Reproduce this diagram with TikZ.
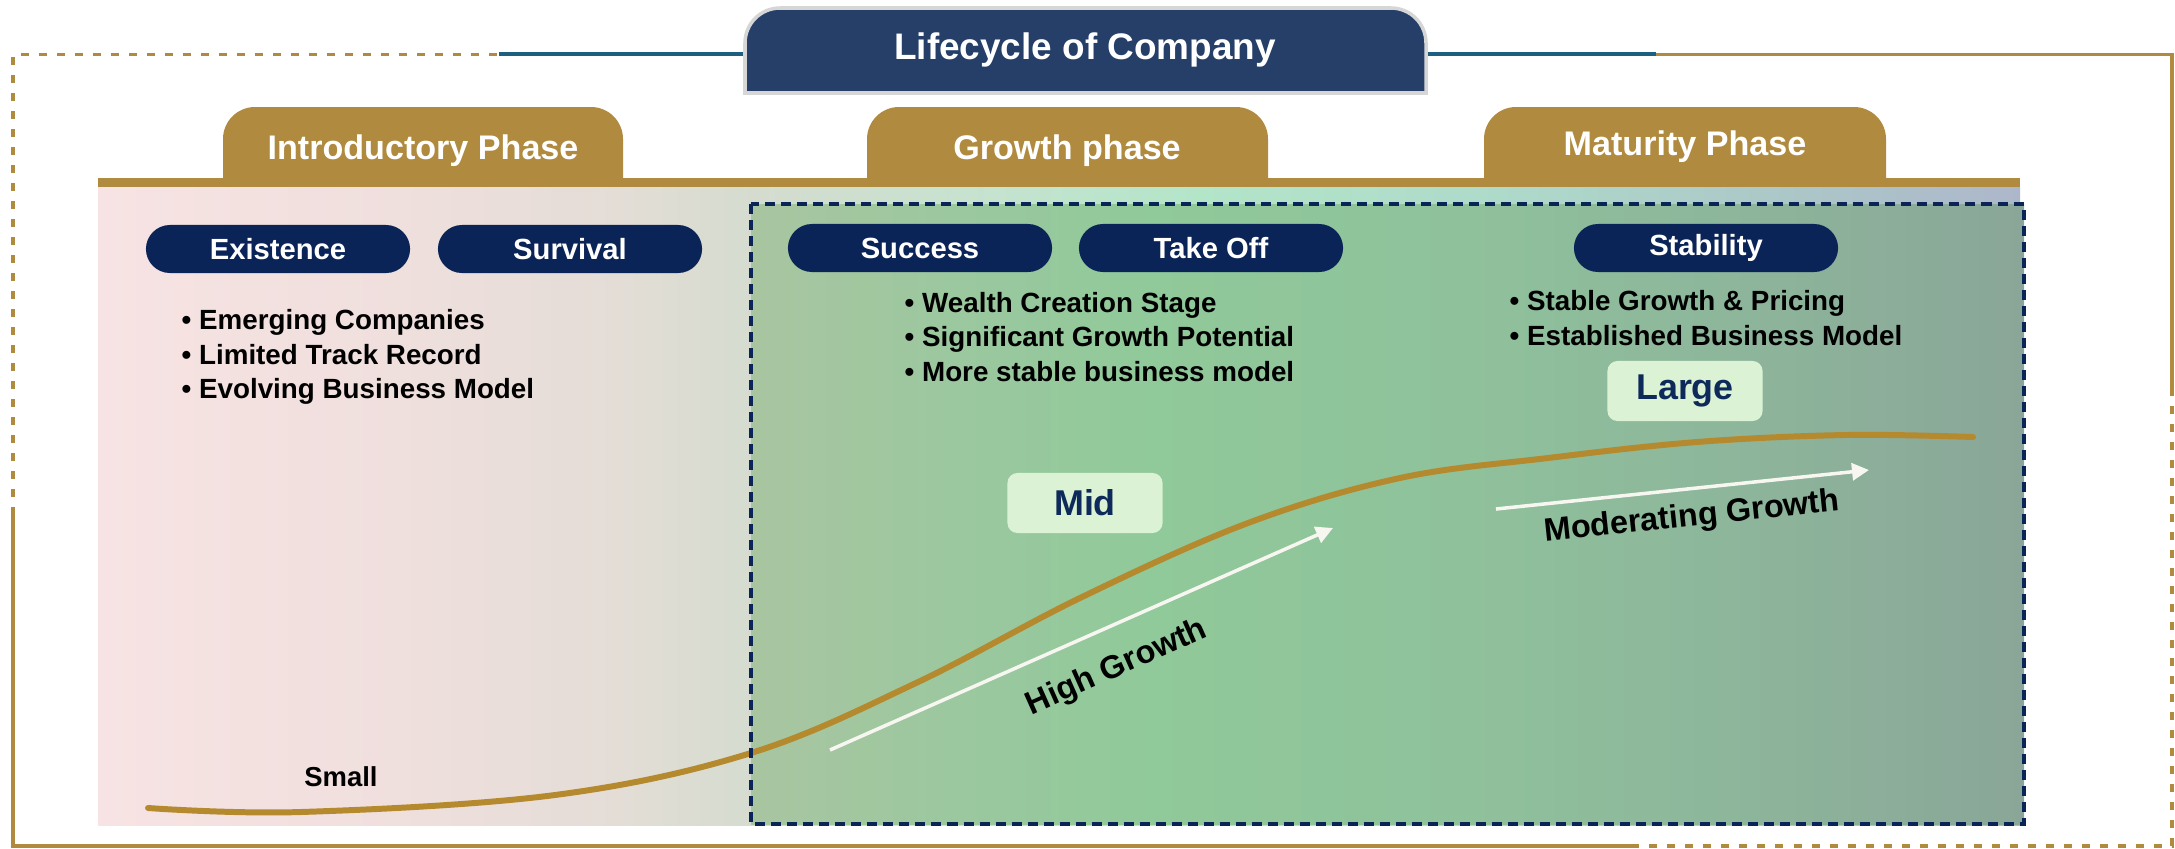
\documentclass[tikz,border=0pt]{standalone}
\usepackage{fontspec}
\setmainfont{Liberation Sans}
\usetikzlibrary{arrows.meta}
\definecolor{gold}{HTML}{B08A3E}
\definecolor{curvegold}{HTML}{B5892E}
\definecolor{navy}{HTML}{0B2457}
\definecolor{titlenavy}{HTML}{253F68}
\definecolor{tealline}{HTML}{1D5F7F}
\definecolor{boxgray}{HTML}{D6D6D6}
\definecolor{mintbox}{HTML}{DBF2D4}
\definecolor{sizenavy}{HTML}{0E2A5A}
\definecolor{arrowwhite}{HTML}{F8F6F0}
\tikzset{
  frameline/.style={draw=gold, line width=0.9pt},
  framedash/.style={draw=gold, line width=0.9pt, dash pattern=on 0.08cm off 0.1cm},
  tabshape/.style={fill=gold, rounded corners=0.32cm},
  tabtxt/.style={font=\fontsize{9.7}{11}\selectfont\bfseries, text=white, inner sep=0},
  pill/.style={rectangle, rounded corners=0.24cm, fill=navy, text=white,
    font=\fontsize{8.3}{10}\selectfont\bfseries, minimum width=2.64cm, minimum height=0.48cm, inner sep=0},
  bullets/.style={font=\fontsize{7.9}{9.8}\selectfont\bfseries, align=left, anchor=west, inner sep=0, text=black},
  sizebox/.style={rectangle, rounded corners=0.1cm, fill=mintbox, text=sizenavy,
    font=\fontsize{10.2}{12}\selectfont\bfseries, minimum width=1.55cm, minimum height=0.6cm, inner sep=0},
  growtharrow/.style={draw=arrowwhite, line width=1pt, -{Triangle[length=0.17cm, width=0.17cm]}},
  arrowlabel/.style={font=\fontsize{9.2}{11}\selectfont\bfseries, text=black, inner sep=0},
}
\begin{document}
\begin{tikzpicture}[x=0.01cm, y=-0.01cm]
\useasboundingbox (0,0) rectangle (2175,848);
% tabs
\fill[tabshape] (223,107) rectangle (623,240);
\fill[tabshape] (867,107) rectangle (1268,240);
\fill[tabshape] (1484,107) rectangle (1886,240);
% panel background
\shade[left color={rgb,255:red,247;green,227;blue,227}, right color={rgb,255:red,239;green,223;blue,221}] (98,187) rectangle (401,825);
\shade[left color={rgb,255:red,239;green,223;blue,221}, right color={rgb,255:red,229;green,221;blue,215}] (400,187) rectangle (601,825);
\shade[left color={rgb,255:red,229;green,221;blue,215}, right color={rgb,255:red,213;green,220;blue,207}] (600,187) rectangle (752,825);
\shade[left color={rgb,255:red,213;green,220;blue,207}, right color={rgb,255:red,197;green,227;blue,207}] (751,187) rectangle (1001,825);
\shade[left color={rgb,255:red,197;green,227;blue,207}, right color={rgb,255:red,179;green,229;blue,201}] (1000,187) rectangle (1201,825);
\shade[left color={rgb,255:red,179;green,229;blue,201}, right color={rgb,255:red,174;green,218;blue,202}] (1200,187) rectangle (1501,825);
\shade[left color={rgb,255:red,174;green,218;blue,202}, right color={rgb,255:red,172;green,198;blue,200}] (1500,187) rectangle (1801,825);
\shade[left color={rgb,255:red,172;green,198;blue,200}, right color={rgb,255:red,173;green,183;blue,203}] (1800,187) rectangle (2020,825);
% gold bar
\fill[gold] (98,178) rectangle (2020,187);
% dashed box interior
\shade[left color={rgb,255:red,168;green,197;blue,160}, right color={rgb,255:red,156;green,200;blue,159}] (751,204) rectangle (951,824);
\shade[left color={rgb,255:red,156;green,200;blue,159}, right color={rgb,255:red,144;green,201;blue,154}] (950,204) rectangle (1151,824);
\shade[left color={rgb,255:red,144;green,201;blue,154}, right color={rgb,255:red,143;green,194;blue,155}] (1150,204) rectangle (1451,824);
\shade[left color={rgb,255:red,143;green,194;blue,155}, right color={rgb,255:red,141;green,181;blue,155}] (1450,204) rectangle (1751,824);
\shade[left color={rgb,255:red,141;green,181;blue,155}, right color={rgb,255:red,138;green,166;blue,152}] (1750,204) rectangle (2024,824);
% outer frame
\draw[framedash] (13,515) -- (13,54.5) -- (546,54.5);
\draw[frameline] (1426,54.5) -- (2172,54.5) -- (2172,388);
\draw[framedash] (2172,388) -- (2172,846) -- (1637,846);
\draw[frameline] (1637,846) -- (13,846) -- (13,515);
\draw[tealline, line width=1.2pt] (499,54) -- (745,54);
\draw[tealline, line width=1.2pt] (1426,54) -- (1656,54);
% title box
\filldraw[fill=titlenavy, draw=boxgray, line width=1pt] (745,93) -- (745,43) arc[start angle=180, end angle=270, radius=35] -- (1391,8) arc[start angle=270, end angle=360, radius=35] -- (1426,93) -- cycle;
\node[font=\fontsize{10.5}{12}\selectfont\bfseries, text=white, inner sep=0] (title) at (1085,50) {Lifecycle of Company};
% tab labels
\node[tabtxt] (intro) at (423,151) {Introductory Phase};
\node[tabtxt] (growth) at (1067,151) {Growth phase};
\node[tabtxt] (maturity) at (1685,147) {Maturity Phase};
% pills
\node[pill] (exist) at (278,249) {Existence};
\node[pill] (surv) at (570,249) {Survival};
\node[pill] (succ) at (920,248) {Success};
\node[pill] (take) at (1211,248) {Take Off};
\node[pill] (stab) at (1706,248) {Stability};
% bullets
\node[bullets] (introb) at (181,357) {• Emerging Companies\\• Limited Track Record\\• Evolving Business Model};
\node[bullets] (growthb) at (904,337) {• Wealth Creation Stage\\• Significant Growth Potential\\• More stable business model};
\node[bullets] (stabb) at (1509,318) {• Stable Growth \& Pricing\\• Established Business Model};
% size labels
\node[sizebox] (mid) at (1085,503) {Mid};
\node[sizebox] (large) at (1685,391) {Large};
\node[font=\fontsize{7.8}{9}\selectfont\bfseries, inner sep=0] (small) at (341,777) {Small};
% curve
\draw[curvegold, line width=1.7pt, line cap=round] plot[smooth, tension=0.6] coordinates {(148,808) (301,812) (555,795) (751,753) (916,683) (1082,597) (1248,523) (1400,478) (1548,458) (1697,442) (1846,435) (1973,437)};
% dashed border
\draw[navy, line width=0.9pt, dash pattern=on 0.1cm off 0.06cm] (751,204) rectangle (2024,824);
% arrows
\coordinate (hg1) at (830,750);
\coordinate (hg2) at (1333,528);
\coordinate (mg1) at (1496,509);
\coordinate (mg2) at (1869,470);
\draw[growtharrow] (hg1) -- (hg2);
\draw[growtharrow] (mg1) -- (mg2);
\node[arrowlabel, rotate=24] (hgl) at (1117,668) {High Growth};
\node[arrowlabel, rotate=6] (mgl) at (1692,518) {Moderating Growth};
\end{tikzpicture}
\end{document}
